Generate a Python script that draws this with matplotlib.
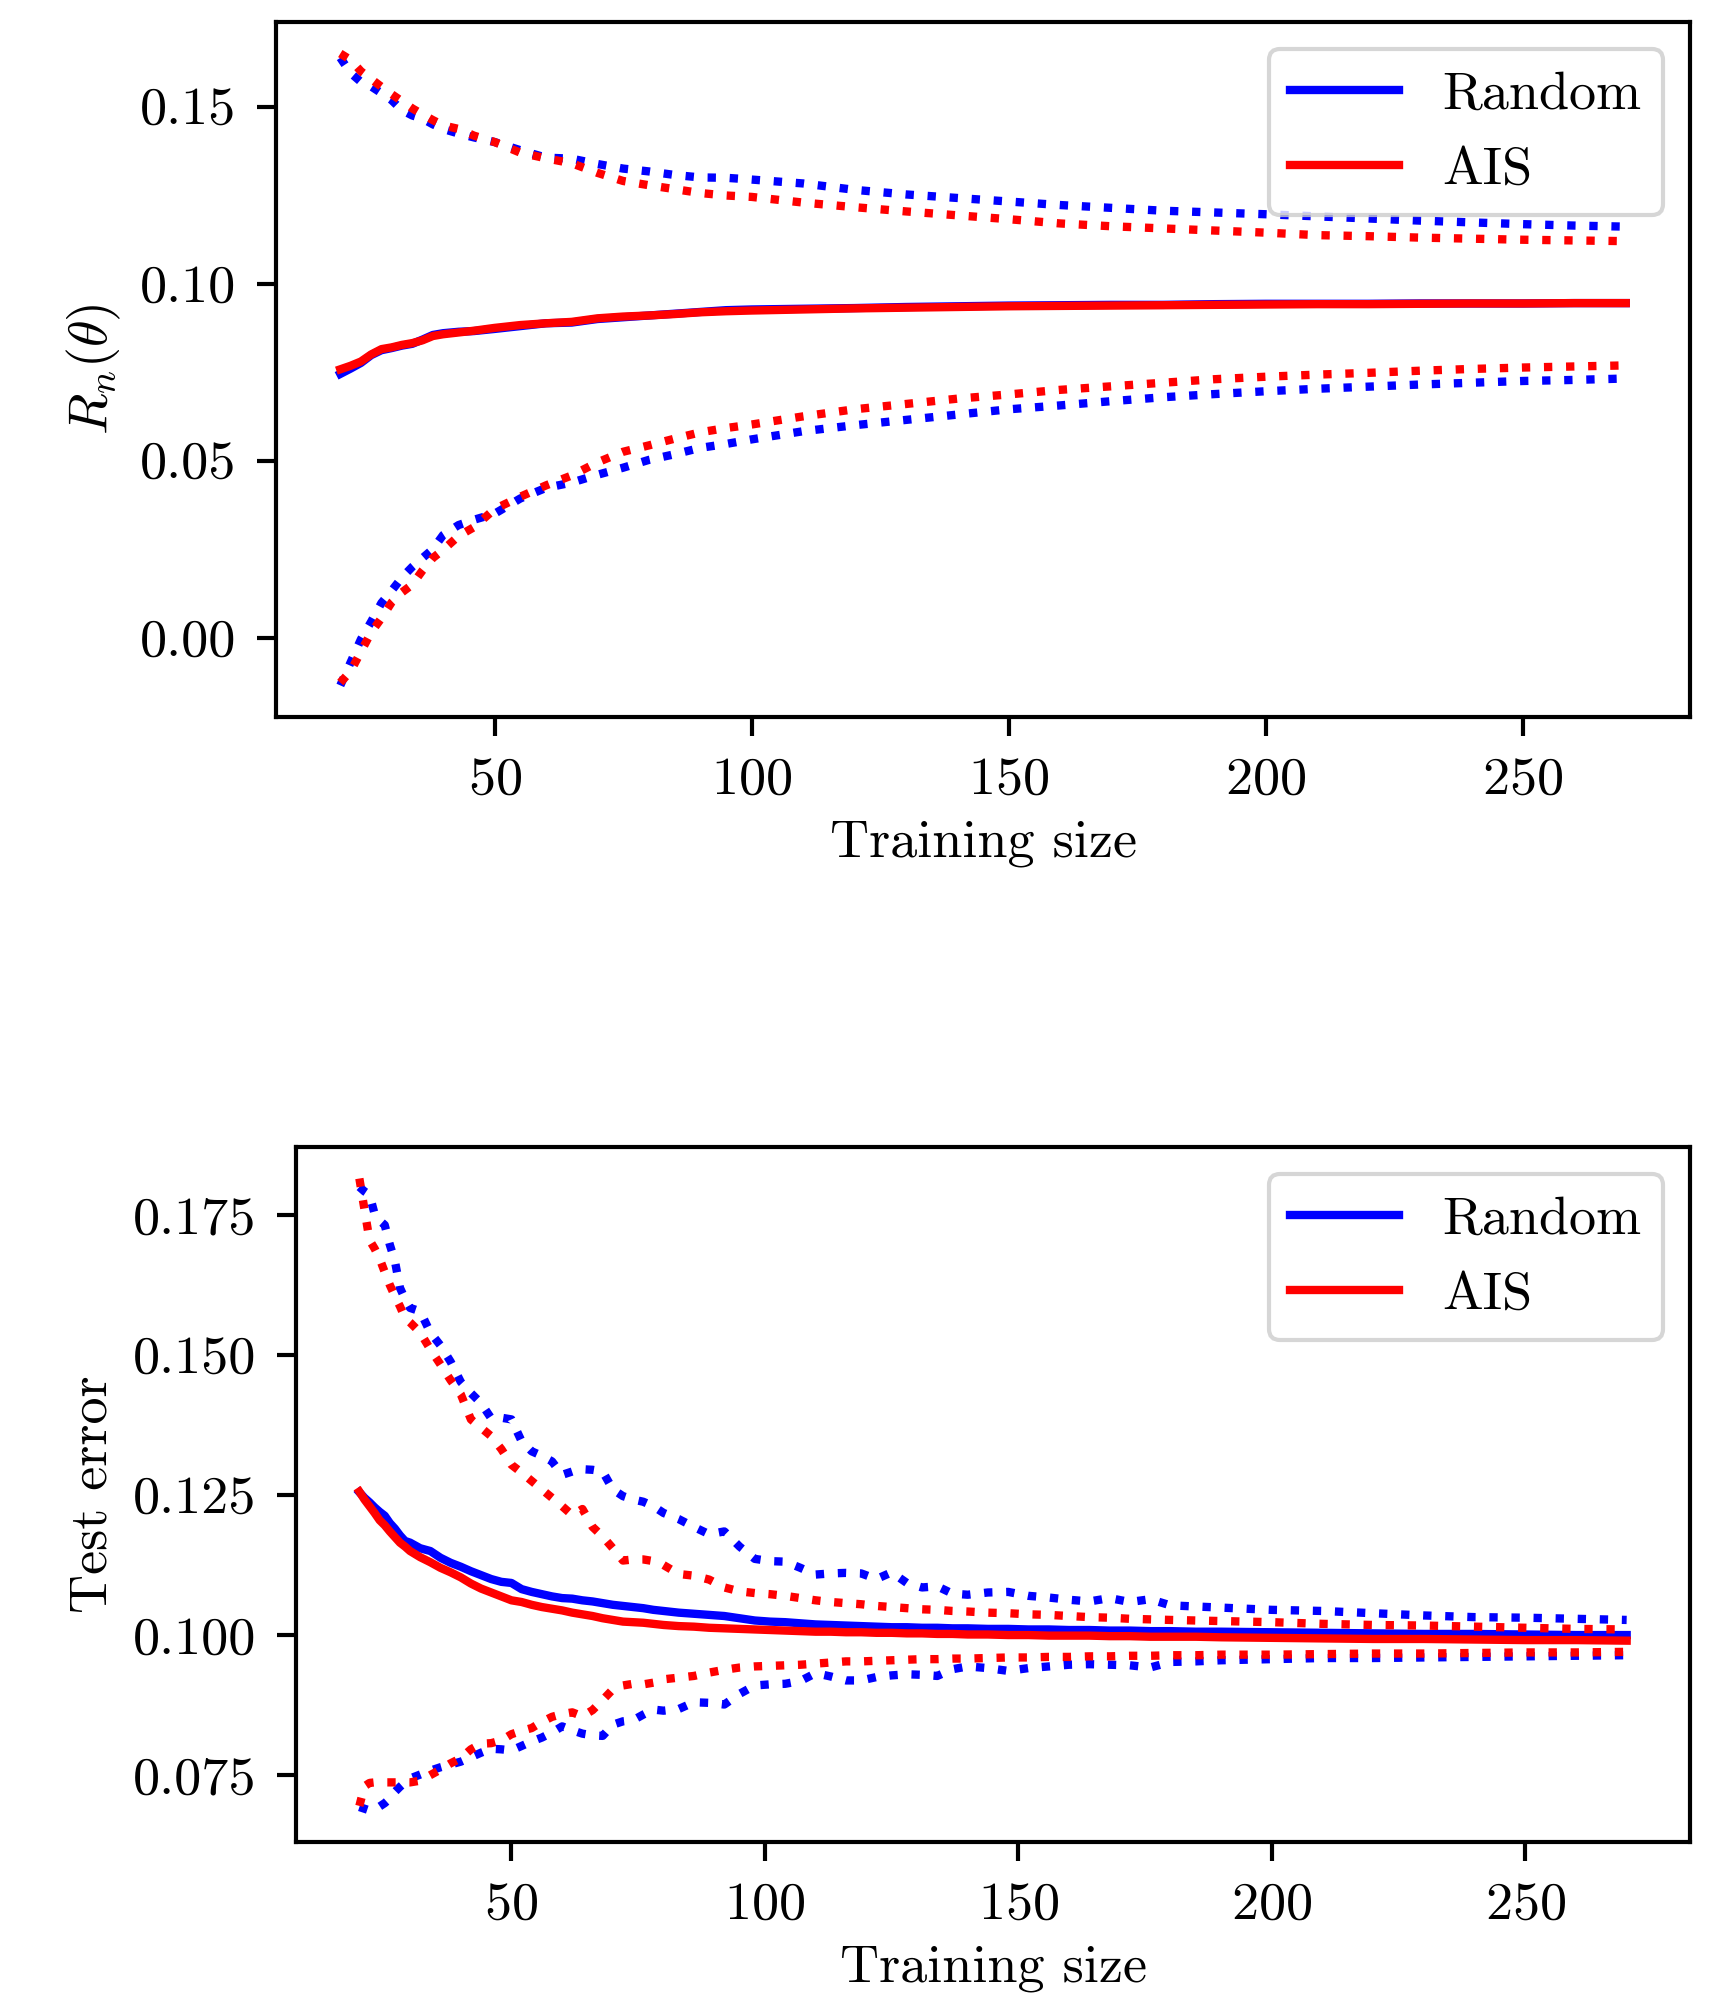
import numpy as np
import matplotlib
matplotlib.use('Agg')
import matplotlib.pyplot as plt

plt.rcParams['font.family'] = 'serif'
plt.rcParams['font.serif'] = ['cmr10']
plt.rcParams['mathtext.fontset'] = 'cm'
plt.rcParams['axes.unicode_minus'] = False
plt.rcParams['axes.formatter.use_mathtext'] = True
plt.rcParams['font.size'] = 13
plt.rcParams['axes.linewidth'] = 1.0
plt.rcParams['xtick.major.width'] = 1.0
plt.rcParams['ytick.major.width'] = 1.0
plt.rcParams['xtick.major.size'] = 4.5
plt.rcParams['ytick.major.size'] = 4.5
plt.rcParams['xtick.major.pad'] = 5
plt.rcParams['ytick.major.pad'] = 5

# ---- top panel: R_n(theta) ----
x_top = [20, 22, 24, 26, 28, 30, 32, 34, 36, 38, 40, 43, 46, 50, 55, 60, 65, 70, 75, 80,
         85, 90, 95, 100, 110, 120, 130, 140, 150, 160, 170, 180, 190, 200, 210, 220,
         230, 240, 250, 260, 270]

rand_mean_top = [0.0745, 0.0760, 0.0776, 0.0798, 0.0812, 0.0818, 0.0825, 0.0830, 0.0842, 0.0855,
                 0.0860, 0.0864, 0.0866, 0.0872, 0.0880, 0.0888, 0.0890, 0.0900, 0.0905, 0.0910,
                 0.0915, 0.0920, 0.0925, 0.0927, 0.0929, 0.0931, 0.0934, 0.0936, 0.0938, 0.0939,
                 0.0940, 0.0940, 0.0942, 0.0943, 0.0943, 0.0943, 0.0944, 0.0944, 0.0944, 0.0945,
                 0.0945]
rand_hi_top = [0.1638, 0.1595, 0.1570, 0.1557, 0.1538, 0.1518, 0.1490, 0.1475, 0.1466, 0.1450,
               0.1437, 0.1424, 0.1413, 0.1400, 0.1377, 0.1356, 0.1353, 0.1338, 0.1325, 0.1317,
               0.1307, 0.1300, 0.1299, 0.1294, 0.1283, 0.1265, 0.1252, 0.1242, 0.1232, 0.1222,
               0.1214, 0.1206, 0.1201, 0.1196, 0.1190, 0.1184, 0.1178, 0.1173, 0.1168, 0.1164,
               0.1161]
rand_lo_top = [-0.0135, -0.0070, -0.0005, 0.0045, 0.0098, 0.0133, 0.0170, 0.0200, 0.0225, 0.0250,
               0.0290, 0.0318, 0.0333, 0.0350, 0.0393, 0.0423, 0.0438, 0.0460, 0.0480, 0.0502,
               0.0518, 0.0536, 0.0547, 0.0560, 0.0583, 0.0600, 0.0615, 0.0630, 0.0645, 0.0656,
               0.0668, 0.0679, 0.0688, 0.0696, 0.0703, 0.0709, 0.0715, 0.0720, 0.0725, 0.0728,
               0.0732]

ais_mean_top = [0.0758, 0.0768, 0.0780, 0.0800, 0.0815, 0.0820, 0.0827, 0.0832, 0.0840, 0.0852,
                0.0857, 0.0862, 0.0867, 0.0875, 0.0883, 0.0888, 0.0892, 0.0902, 0.0907, 0.0910,
                0.0914, 0.0919, 0.0922, 0.0924, 0.0927, 0.0930, 0.0932, 0.0934, 0.0936, 0.0937,
                0.0938, 0.0939, 0.0940, 0.0941, 0.0942, 0.0942, 0.0943, 0.0944, 0.0944, 0.0945,
                0.0945]
ais_hi_top = [0.1650, 0.1632, 0.1600, 0.1578, 0.1556, 0.1535, 0.1515, 0.1495, 0.1478, 0.1462,
              0.1447, 0.1437, 0.1418, 0.1400, 0.1370, 0.1354, 0.1340, 0.1313, 0.1290, 0.1278,
              0.1267, 0.1256, 0.1249, 0.1245, 0.1229, 0.1216, 0.1204, 0.1193, 0.1182, 0.1170,
              0.1162, 0.1156, 0.1150, 0.1144, 0.1137, 0.1134, 0.1130, 0.1127, 0.1124, 0.1122,
              0.1120]
ais_lo_top = [-0.0127, -0.0095, -0.0040, 0.0015, 0.0055, 0.0100, 0.0128, 0.0150, 0.0190, 0.0225,
              0.0248, 0.0287, 0.0312, 0.0363, 0.0398, 0.0430, 0.0458, 0.0495, 0.0525, 0.0543,
              0.0562, 0.0580, 0.0592, 0.0602, 0.0625, 0.0645, 0.0660, 0.0675, 0.0687, 0.0700,
              0.0710, 0.0720, 0.0730, 0.0737, 0.0743, 0.0748, 0.0754, 0.0759, 0.0763, 0.0766,
              0.0769]

# ---- bottom panel: test error ----
x_bot = [20, 21, 22, 23, 24, 25, 26, 27, 28, 29, 30, 32, 34, 36, 38, 40, 42, 44, 46, 48,
         50, 52, 54, 56, 58, 60, 62, 64, 66, 68, 70, 72, 74, 76, 78, 80, 83, 86, 89, 92,
         95, 98, 101, 104, 107, 110, 113, 116, 119, 122, 125, 128, 131, 134, 137, 140, 144,
         148, 152, 156, 160, 164, 168, 172, 176, 180, 185, 190, 200, 210, 220, 230, 240,
         250, 260, 270]

rand_mean_bot = [0.1255, 0.1245, 0.1237, 0.1228, 0.1220, 0.1213, 0.1200, 0.1190, 0.1178, 0.1168,
                 0.1165, 0.1155, 0.1150, 0.1138, 0.1129, 0.1122, 0.1114, 0.1107, 0.1100, 0.1095,
                 0.1093, 0.1082, 0.1077, 0.1073, 0.1069, 0.1066, 0.1065, 0.1062, 0.1060, 0.1057,
                 0.1054, 0.1052, 0.1050, 0.1048, 0.1045, 0.1043, 0.1040, 0.1038, 0.1036, 0.1034,
                 0.1030, 0.1026, 0.1024, 0.1023, 0.1021, 0.1019, 0.1018, 0.1017, 0.1016, 0.1015,
                 0.1014, 0.1014, 0.1013, 0.1013, 0.1012, 0.1012, 0.1011, 0.1011, 0.1010, 0.1010,
                 0.1009, 0.1009, 0.1008, 0.1008, 0.1007, 0.1007, 0.1006, 0.1006, 0.1005, 0.1004,
                 0.1003, 0.1002, 0.1002, 0.1001, 0.1000, 0.1000]
rand_hi_bot = [0.1800, 0.1792, 0.1786, 0.1752, 0.1740, 0.1732, 0.1697, 0.1668, 0.1620, 0.1600,
               0.1584, 0.1578, 0.1540, 0.1517, 0.1488, 0.1452, 0.1432, 0.1414, 0.1387, 0.1388,
               0.1385, 0.1346, 0.1328, 0.1320, 0.1310, 0.1286, 0.1292, 0.1296, 0.1295, 0.1292,
               0.1260, 0.1248, 0.1242, 0.1238, 0.1230, 0.1218, 0.1207, 0.1193, 0.1180, 0.1185,
               0.1158, 0.1136, 0.1132, 0.1131, 0.1120, 0.1108, 0.1110, 0.1111, 0.1110, 0.1100,
               0.1112, 0.1093, 0.1085, 0.1087, 0.1074, 0.1072, 0.1076, 0.1077, 0.1070, 0.1067,
               0.1063, 0.1060, 0.1066, 0.1059, 0.1064, 0.1053, 0.1051, 0.1049, 0.1045, 0.1043,
               0.1039, 0.1035, 0.1032, 0.1031, 0.1029, 0.1027]
rand_lo_bot = [0.0693, 0.0690, 0.0687, 0.0688, 0.0694, 0.0700, 0.0708, 0.0720, 0.0729, 0.0737,
               0.0744, 0.0751, 0.0758, 0.0764, 0.0769, 0.0774, 0.0782, 0.0790, 0.0797, 0.0796,
               0.0794, 0.0802, 0.0810, 0.0817, 0.0826, 0.0837, 0.0830, 0.0824, 0.0821, 0.0820,
               0.0840, 0.0846, 0.0848, 0.0858, 0.0867, 0.0865, 0.0868, 0.0880, 0.0879, 0.0876,
               0.0895, 0.0910, 0.0912, 0.0913, 0.0918, 0.0932, 0.0926, 0.0919, 0.0919, 0.0925,
               0.0928, 0.0930, 0.0929, 0.0927, 0.0939, 0.0944, 0.0941, 0.0936, 0.0941, 0.0944,
               0.0947, 0.0948, 0.0947, 0.0946, 0.0942, 0.0952, 0.0953, 0.0955, 0.0957, 0.0959,
               0.0959, 0.0960, 0.0961, 0.0962, 0.0963, 0.0964]

ais_mean_bot = [0.1256, 0.1242, 0.1230, 0.1218, 0.1205, 0.1196, 0.1185, 0.1175, 0.1165, 0.1158,
                0.1150, 0.1139, 0.1130, 0.1120, 0.1112, 0.1103, 0.1092, 0.1083, 0.1076, 0.1069,
                0.1062, 0.1059, 0.1054, 0.1050, 0.1047, 0.1044, 0.1040, 0.1037, 0.1034, 0.1030,
                0.1027, 0.1024, 0.1023, 0.1022, 0.1020, 0.1018, 0.1016, 0.1015, 0.1013, 0.1012,
                0.1011, 0.1010, 0.1009, 0.1008, 0.1007, 0.1006, 0.1006, 0.1005, 0.1005, 0.1004,
                0.1004, 0.1003, 0.1003, 0.1002, 0.1002, 0.1001, 0.1001, 0.1000, 0.1000, 0.0999,
                0.0999, 0.0999, 0.0998, 0.0998, 0.0997, 0.0997, 0.0997, 0.0996, 0.0995, 0.0994,
                0.0993, 0.0993, 0.0992, 0.0991, 0.0991, 0.0990]
ais_hi_bot = [0.1815, 0.1760, 0.1705, 0.1690, 0.1672, 0.1648, 0.1625, 0.1605, 0.1587, 0.1566,
              0.1558, 0.1540, 0.1510, 0.1483, 0.1455, 0.1430, 0.1385, 0.1370, 0.1355, 0.1332,
              0.1304, 0.1290, 0.1275, 0.1260, 0.1245, 0.1230, 0.1214, 0.1225, 0.1193, 0.1176,
              0.1155, 0.1133, 0.1135, 0.1135, 0.1132, 0.1125, 0.1109, 0.1106, 0.1099, 0.1085,
              0.1078, 0.1075, 0.1073, 0.1070, 0.1066, 0.1062, 0.1059, 0.1057, 0.1055, 0.1052,
              0.1050, 0.1048, 0.1046, 0.1045, 0.1043, 0.1042, 0.1040, 0.1039, 0.1037, 0.1036,
              0.1034, 0.1032, 0.1031, 0.1029, 0.1028, 0.1027, 0.1026, 0.1025, 0.1023, 0.1020,
              0.1018, 0.1017, 0.1015, 0.1013, 0.1011, 0.1010]
ais_lo_bot = [0.0695, 0.0730, 0.0736, 0.0737, 0.0737, 0.0737, 0.0737, 0.0737, 0.0737, 0.0737,
              0.0737, 0.0740, 0.0750, 0.0760, 0.0771, 0.0780, 0.0796, 0.0806, 0.0807, 0.0812,
              0.0823, 0.0829, 0.0834, 0.0845, 0.0854, 0.0859, 0.0862, 0.0855, 0.0866, 0.0884,
              0.0903, 0.0910, 0.0913, 0.0912, 0.0915, 0.0921, 0.0924, 0.0927, 0.0933, 0.0938,
              0.0942, 0.0944, 0.0945, 0.0946, 0.0947, 0.0949, 0.0951, 0.0953, 0.0953, 0.0954,
              0.0955, 0.0956, 0.0957, 0.0957, 0.0958, 0.0958, 0.0959, 0.0960, 0.0960, 0.0961,
              0.0961, 0.0962, 0.0962, 0.0963, 0.0963, 0.0964, 0.0964, 0.0965, 0.0965, 0.0966,
              0.0967, 0.0967, 0.0968, 0.0969, 0.0969, 0.0970]

x_ticks = [50, 100, 150, 200, 250]

fig = plt.figure(figsize=(1721 / 300, 1995 / 300), dpi=300)
ax1 = fig.add_axes([0.1604, 0.6406, 0.8216, 0.3484])
ax2 = fig.add_axes([0.1720, 0.0767, 0.8100, 0.3484])

lw = 2
for ax, x, rm, rh, rl, am, ah, al in [
        (ax1, x_top, rand_mean_top, rand_hi_top, rand_lo_top, ais_mean_top, ais_hi_top, ais_lo_top),
        (ax2, x_bot, rand_mean_bot, rand_hi_bot, rand_lo_bot, ais_mean_bot, ais_hi_bot, ais_lo_bot)]:
    ax.plot(x, rm, color='blue', lw=lw, label='Random')
    ax.plot(x, rh, color='blue', lw=lw, ls=':')
    ax.plot(x, rl, color='blue', lw=lw, ls=':')
    ax.plot(x, am, color='red', lw=lw, label='AIS')
    ax.plot(x, ah, color='red', lw=lw, ls=':')
    ax.plot(x, al, color='red', lw=lw, ls=':')
    ax.set_xticks(x_ticks)
    ax.set_xlabel('Training size')
    ax.legend(loc='upper right')

ax1.set_yticks([0.00, 0.05, 0.10, 0.15])
ax1.set_yticklabels(['0.00', '0.05', '0.10', '0.15'])
ax1.set_ylabel(r'$R_n(\theta)$')

ax2.set_yticks([0.075, 0.100, 0.125, 0.150, 0.175])
ax2.set_yticklabels(['0.075', '0.100', '0.125', '0.150', '0.175'])
ax2.set_ylabel('Test error')

fig.savefig('out.png', dpi=300)
